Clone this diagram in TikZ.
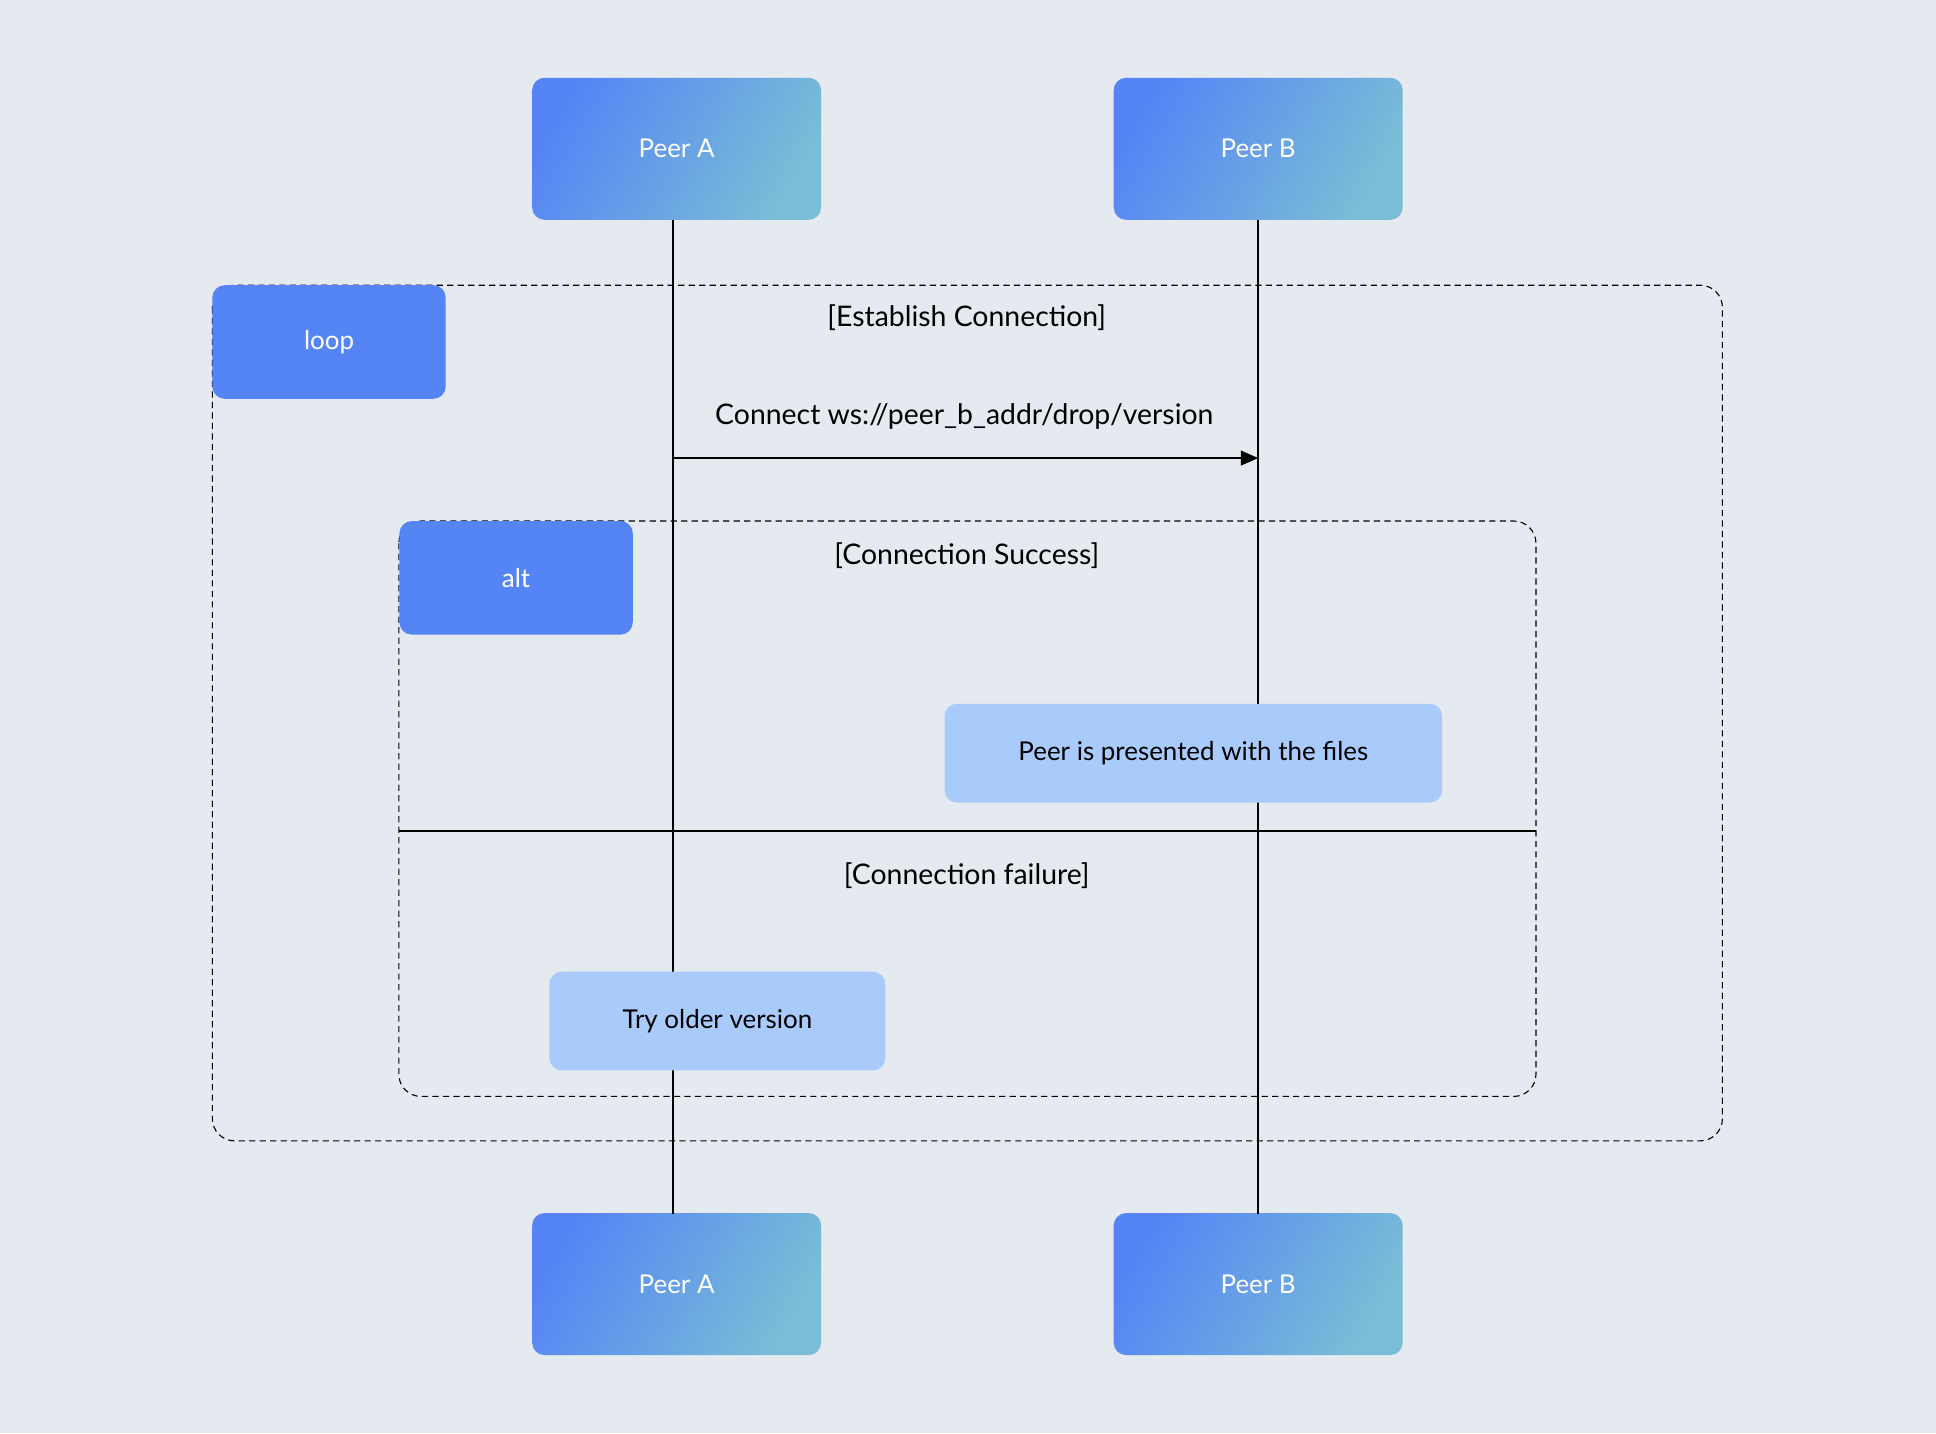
\documentclass[tikz,border=0pt]{standalone}
\usepackage{fontspec}
\setmainfont{Lato}
\usetikzlibrary{arrows.meta}
\definecolor{bg}{HTML}{E5E9F0}
\definecolor{tagblue}{HTML}{5585F5}
\definecolor{teal}{HTML}{7ABDD6}
\definecolor{note}{HTML}{A8CBFC}
\tikzset{
 peer/.style={rounded corners=10pt,minimum width=234pt,minimum height=115pt,inner sep=0pt,
   left color=tagblue,right color=teal,shading angle=60,text=white,font=\fontsize{21}{24}\selectfont},
 tag/.style={rounded corners=10pt,fill=tagblue,minimum width=189pt,minimum height=92pt,inner sep=0pt,text=white,font=\fontsize{21}{24}\selectfont},
 notebox/.style={rounded corners=10pt,fill=note,inner sep=0pt,font=\fontsize{21}{24}\selectfont},
 frame/.style={draw,dashed,rounded corners=18pt,line width=0.9pt,dash pattern=on 5pt off 3.5pt},
 lbl/.style={font=\fontsize{23}{26}\selectfont},
 life/.style={line width=1.2pt}
}
\begin{document}
\begin{tikzpicture}[x=1pt,y=-1pt]
\fill[bg] (0,0) rectangle (1568,1161);
\useasboundingbox (0,0) rectangle (1568,1161);
\node[peer] (pa) at (548,120.5) {Peer A};
\node[peer] (pb) at (1019,120.5) {Peer B};
\node[peer] (pa2) at (548,1040) {Peer A};
\node[peer] (pb2) at (1019,1040) {Peer B};
\coordinate (la1) at (545,178); \coordinate (la2) at (545,983);
\coordinate (lb1) at (1019,178); \coordinate (lb2) at (1019,983);
\draw[life] (la1) -- (la2);
\draw[life] (lb1) -- (lb2);
% loop frame
\draw[frame] (172,231) rectangle (1395,924);
\node[tag] (loop) at (266.5,277) {loop};
\node[lbl] (est) at (783,257) {[Establish Connection]};
\node[lbl] (conn) at (781,337) {Connect ws://peer\_b\_addr/drop/version};
\coordinate (a1) at (545,371); \coordinate (a2) at (1019,371);
\draw[line width=1.2pt,-{Triangle[length=14pt,width=12pt]}] (a1) -- (a2);
% alt frame
\draw[frame] (323,422) rectangle (1244,888);
\node[tag] (alt) at (418,468) {alt};
\node[lbl] (succ) at (783,450) {[Connection Success]};
\node[notebox,minimum width=403pt,minimum height=80pt] (n1) at (966.5,610) {Peer is presented with the files};
\coordinate (d1) at (323,673); \coordinate (d2) at (1244,673);
\draw[line width=1.2pt] (d1) -- (d2);
\node[lbl] (fail) at (783,709) {[Connection failure]};
\node[notebox,minimum width=272pt,minimum height=80pt] (n2) at (581,827) {Try older version};
\end{tikzpicture}
\end{document}
